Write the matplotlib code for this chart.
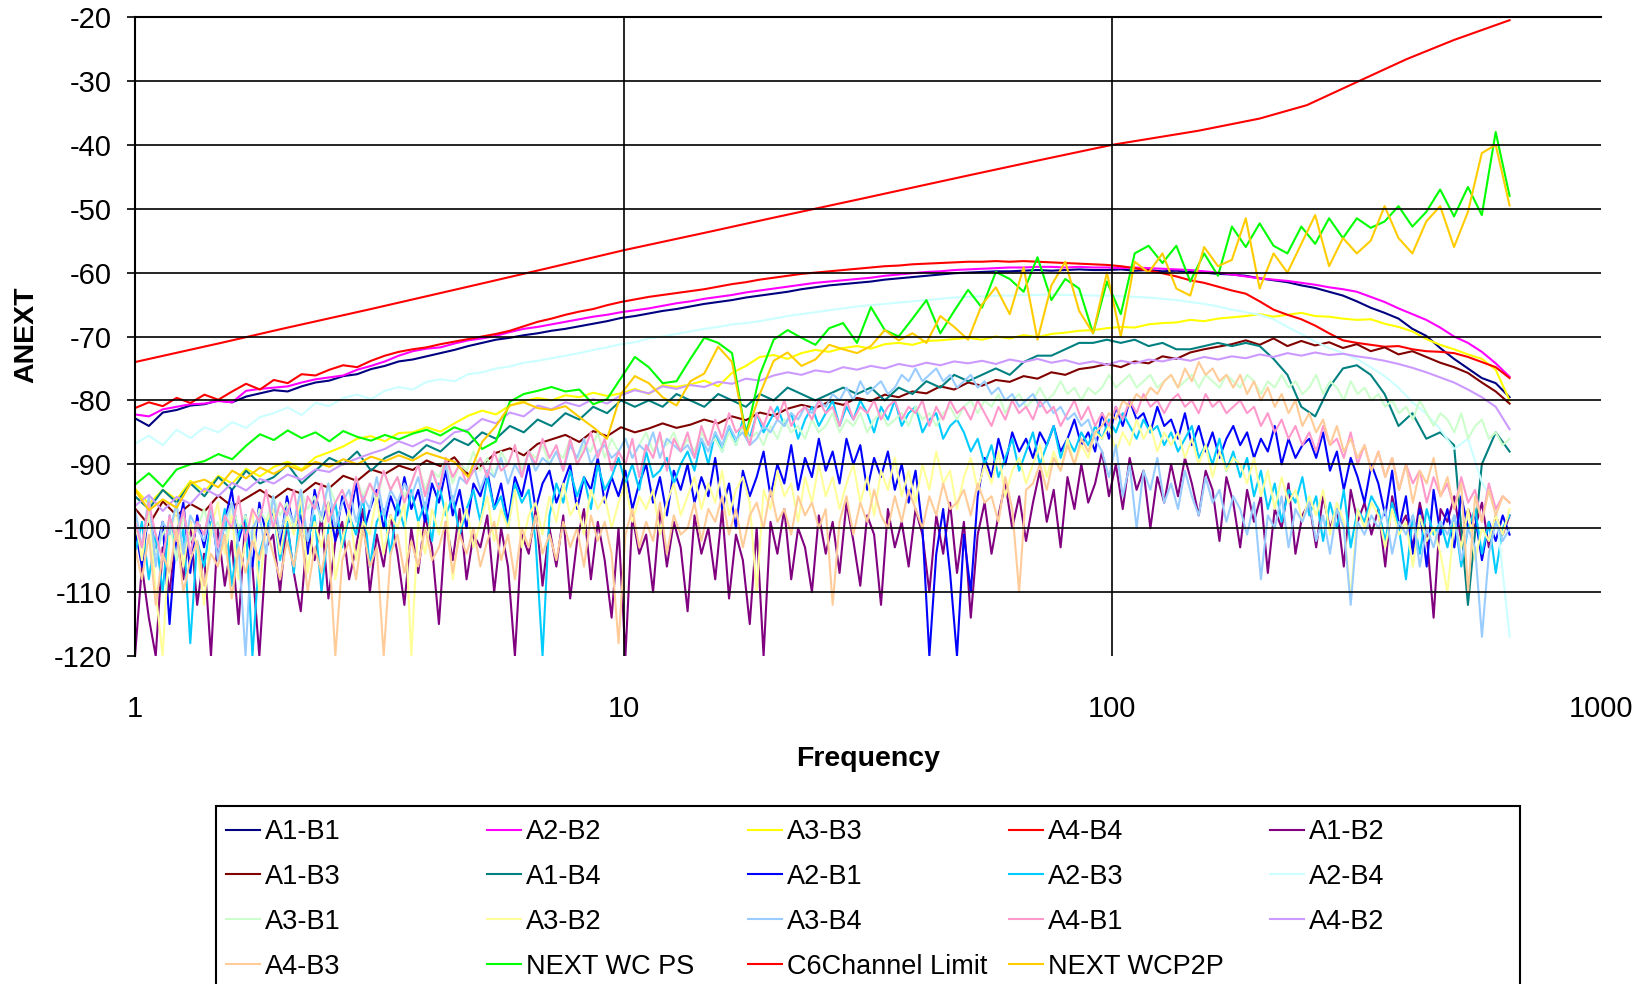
import numpy as np
import matplotlib.pyplot as plt
from matplotlib.patches import Rectangle

plt.rcParams['font.family'] = ['Liberation Sans', 'DejaVu Sans']
plt.rcParams['axes.unicode_minus'] = False

# sweep grids of the analyser, log spaced from 1 to 650 MHz
freq = np.geomspace(1, 650, 100)
freq_fine = np.geomspace(1, 650, 200)

a1_b1 = [-82.8, -84.0, -81.9, -81.5, -80.8, -80.6, -80.0, -80.3, -79.4, -78.9,
         -78.4, -78.6, -77.8, -77.2, -76.9, -76.2, -75.9, -75.1, -74.6, -73.9,
         -73.6, -73.1, -72.6, -72.1, -71.5, -71.0, -70.5, -70.2, -69.8, -69.5,
         -69.1, -68.8, -68.4, -68.0, -67.6, -67.1, -66.8, -66.4, -66.0, -65.7,
         -65.3, -64.9, -64.6, -64.3, -63.9, -63.6, -63.3, -63.0, -62.6, -62.3,
         -62.0, -61.8, -61.6, -61.4, -61.1, -60.9, -60.7, -60.5, -60.3, -60.1,
         -60.0, -59.9, -59.8, -59.8, -59.7, -59.6, -59.7, -59.6, -59.5, -59.6,
         -59.6, -59.5, -59.7, -59.6, -59.8, -59.7, -59.9, -60.0, -60.2, -60.3,
         -60.5, -60.9, -61.2, -61.5, -62.0, -62.4, -63.0, -63.6, -64.5, -65.5,
         -66.3, -67.2, -68.8, -69.9, -71.8, -73.5, -75.0, -76.5, -77.3, -79.5]

a2_b2 = [-82.2, -82.5, -81.4, -81.0, -80.6, -80.5, -80.1, -80.3, -78.5, -78.2,
         -78.0, -77.8, -77.2, -76.7, -76.4, -76.1, -75.2, -74.6, -73.9, -73.0,
         -72.3, -71.9, -71.7, -71.1, -70.6, -70.3, -69.9, -69.3, -68.8, -68.5,
         -68.1, -67.7, -67.3, -66.9, -66.6, -66.2, -65.9, -65.6, -65.2, -64.8,
         -64.5, -64.1, -63.8, -63.5, -63.1, -62.8, -62.5, -62.2, -61.9, -61.6,
         -61.4, -61.2, -61.0, -60.8, -60.5, -60.3, -60.1, -59.9, -59.8, -59.6,
         -59.5, -59.4, -59.3, -59.2, -59.2, -59.1, -59.1, -59.2, -59.1, -59.2,
         -59.2, -59.3, -59.2, -59.3, -59.4, -59.5, -59.6, -59.8, -60.0, -60.3,
         -60.6, -60.9, -61.1, -61.3, -61.6, -61.9, -62.3, -62.6, -63.0, -63.8,
         -64.6, -65.6, -66.5, -67.4, -68.6, -70.0, -71.0, -72.4, -74.2, -76.3]

a3_b3 = [-93.8, -96.2, -94.0, -95.5, -92.6, -94.3, -91.8, -93.0, -90.7, -91.9,
         -90.4, -89.6, -90.8, -88.9, -88.1, -87.2, -86.0, -85.6, -86.4, -85.1,
         -85.0, -84.2, -84.9, -83.6, -82.4, -81.6, -82.2, -80.8, -80.1, -79.6,
         -80.0, -79.2, -79.5, -78.8, -79.3, -78.9, -78.2, -79.0, -77.6, -77.9,
         -77.5, -76.9, -77.8, -75.7, -74.6, -73.2, -72.9, -73.5, -72.6, -72.1,
         -72.4, -71.8, -71.5, -71.9, -71.2, -71.0, -71.3, -70.7, -70.6, -70.4,
         -70.2, -70.5, -70.0, -70.3, -69.8, -70.1, -69.6, -69.4, -69.1, -69.0,
         -68.7, -68.5, -68.6, -68.1, -67.9, -67.8, -67.4, -67.6, -67.2, -67.0,
         -66.8, -66.5, -66.9, -66.6, -66.3, -66.8, -66.9, -67.2, -67.4, -67.3,
         -68.0, -68.5, -69.2, -70.4, -71.3, -72.0, -72.8, -73.5, -75.2, -80.0]

a4_b4 = [-81.2, -80.3, -80.9, -79.6, -80.4, -79.1, -79.9, -78.6, -77.4, -78.3,
         -76.8, -77.3, -75.9, -76.1, -75.2, -74.5, -74.8, -73.8, -73.0, -72.4,
         -72.0, -71.7, -71.2, -70.8, -70.4, -70.0, -69.6, -69.1, -68.4, -67.7,
         -67.2, -66.6, -66.1, -65.7, -65.1, -64.6, -64.2, -63.8, -63.5, -63.2,
         -62.9, -62.6, -62.2, -61.8, -61.5, -61.1, -60.8, -60.5, -60.2, -60.0,
         -59.8, -59.6, -59.4, -59.2, -59.0, -58.9, -58.7, -58.6, -58.5, -58.4,
         -58.3, -58.3, -58.2, -58.3, -58.2, -58.3, -58.4, -58.5, -58.6, -58.7,
         -58.8, -59.0, -59.3, -59.7, -60.1, -60.6, -61.2, -61.6, -62.2, -62.8,
         -63.3, -64.5, -65.8, -66.6, -67.3, -68.3, -69.5, -70.6, -71.0, -71.3,
         -71.6, -71.5, -72.0, -72.3, -72.4, -72.6, -73.2, -74.0, -74.8, -76.5]

a1_b2 = [-120, -106, -114, -120, -103, -110, -101, -108, -99, -112,
         -104, -120, -100, -109, -102, -115, -98, -106, -120, -103,
         -101, -110, -99, -107, -113, -100, -105, -98, -111, -102,
         -99, -108, -103, -97, -110, -101, -106, -98, -104, -112,
         -100, -107, -98, -103, -115, -99, -105, -97, -108, -101,
         -103, -98, -110, -100, -106, -120, -101, -104, -97, -109,
         -100, -106, -98, -111, -102, -97, -108, -99, -105, -114,
         -100, -120, -98, -104, -101, -110, -97, -106, -99, -103,
         -113, -98, -104, -100, -108, -97, -111, -101, -105, -115,
         -100, -120, -99, -104, -97, -108, -100, -103, -110, -98,
         -104, -99, -107, -96, -102, -109, -98, -101, -112, -97,
         -103, -99, -106, -97, -101, -110, -98, -104, -96, -107,
         -99, -114, -101, -96, -104, -98, -93, -100, -95, -102,
         -96, -91, -99, -94, -103, -92, -97, -90, -96, -93,
         -88, -95, -90, -97, -89, -94, -91, -100, -92, -96,
         -90, -95, -89, -93, -98, -91, -94, -102, -92, -96,
         -103, -94, -99, -95, -107, -97, -100, -93, -104, -98,
         -96, -103, -95, -100, -97, -106, -94, -99, -96, -101,
         -97, -106, -95, -100, -98, -103, -96, -101, -114, -97,
         -99, -95, -102, -97, -100, -96, -103, -98, -101, -98]

a1_b3 = [-96.9, -99.5, -95.8, -98.0, -96.2, -97.4, -94.9, -96.6, -95.3, -94.0,
         -95.4, -93.8, -94.6, -92.9, -93.7, -91.8, -92.6, -90.8, -91.5, -90.2,
         -90.9, -89.4, -90.3, -88.9, -91.6, -90.1, -88.2, -87.5, -88.6, -86.8,
         -86.1, -85.4, -86.5, -84.8, -85.6, -84.2, -85.0, -84.4, -83.6, -84.3,
         -83.8, -83.0, -83.6, -82.5, -83.1, -81.9, -82.4, -81.3, -80.7, -81.2,
         -80.2, -80.7, -79.6, -80.1, -79.1, -79.5, -78.6, -78.9, -77.8, -78.3,
         -77.2, -77.7, -76.8, -77.1, -76.2, -76.6, -75.6, -76.0, -75.1, -74.8,
         -74.3, -74.8, -73.9, -74.2, -73.1, -73.5, -72.5, -72.0, -71.6, -71.2,
         -70.6, -71.3, -70.3, -71.5, -70.7, -71.4, -70.9, -71.8, -71.2, -72.3,
         -71.7, -72.8, -72.3, -73.2, -74.1, -74.8, -75.7, -77.2, -78.6, -80.5]

a1_b4 = [-95, -97, -94, -96, -93, -95, -92, -94, -91, -93,
         -92, -90, -93, -91, -89, -90, -88, -91, -89, -88,
         -89, -87, -88, -86, -87, -85, -86, -84, -85, -83,
         -84, -82, -83, -81, -82, -80, -81, -80, -81, -79,
         -80, -81, -79, -80, -81, -79, -80, -78, -79, -80,
         -79, -78, -79, -78, -80, -78, -79, -77, -78, -76,
         -77, -76, -75, -76, -74, -73, -73, -72, -71, -71,
         -70.5, -71, -70.5, -71.5, -71, -72, -72, -71.5, -71, -71.5,
         -71, -71.5, -73.5, -76, -81, -82.5, -78, -75, -74.5, -76,
         -79, -84, -82, -86, -85, -87, -112, -90, -85, -88]

a2_b1 = [-100, -106, -97, -104, -99, -115, -101, -96, -107, -98,
         -103, -97, -105, -99, -94, -102, -98, -106, -96, -101,
         -97, -103, -95, -100, -98, -104, -94, -99, -96, -102,
         -95, -99, -93, -101, -97, -94, -100, -95, -98, -92,
         -97, -94, -99, -93, -96, -91, -98, -94, -100, -93,
         -95, -91, -97, -93, -99, -92, -95, -90, -97, -93,
         -91, -96, -93, -90, -97, -92, -94, -89, -96, -92,
         -95, -91, -97, -93, -90, -96, -92, -98, -91, -94,
         -90, -96, -92, -95, -89, -97, -93, -100, -91, -95,
         -92, -88, -95, -90, -93, -87, -94, -89, -92, -86,
         -91, -88, -93, -86, -90, -87, -94, -89, -92, -88,
         -94, -90, -96, -91, -100, -120, -104, -97, -107, -120,
         -101, -110, -95, -89, -92, -86, -90, -85, -88, -86,
         -89, -85, -87, -84, -88, -86, -83, -87, -85, -88,
         -82, -86, -81, -84, -80, -83, -82, -85, -81, -84,
         -83, -86, -82, -87, -84, -88, -85, -89, -86, -84,
         -87, -85, -89, -86, -88, -84, -90, -86, -89, -87,
         -86, -89, -85, -91, -88, -94, -89, -92, -96, -90,
         -93, -98, -91, -100, -95, -104, -97, -106, -94, -101,
         -97, -103, -95, -100, -98, -105, -99, -102, -98, -101]

a2_b3 = [-104, -99, -108, -101, -110, -98, -105, -100, -118, -102,
         -106, -99, -103, -97, -109, -101, -98, -120, -104, -100,
         -97, -105, -99, -107, -96, -102, -98, -110, -100, -96,
         -103, -98, -101, -95, -106, -99, -97, -104, -96, -100,
         -94, -99, -96, -102, -93, -98, -95, -101, -97, -94,
         -99, -92, -97, -95, -100, -93, -96, -94, -102, -120,
         -98, -93, -96, -91, -95, -92, -97, -90, -94, -92,
         -89, -93, -90, -94, -88, -92, -91, -89, -93, -90,
         -88, -91, -86, -90, -85, -88, -84, -87, -83, -86,
         -82, -85, -83, -81, -84, -82, -86, -83, -81, -84,
         -82, -80, -84, -81, -83, -80, -82, -85, -81, -83,
         -80, -84, -82, -81, -85, -83, -82, -86, -84, -83,
         -85, -88, -86, -90, -87, -92, -89, -86, -91, -88,
         -85, -90, -87, -84, -89, -86, -88, -85, -87, -84,
         -86, -83, -85, -82, -84, -86, -83, -85, -84, -87,
         -85, -88, -86, -84, -89, -87, -90, -86, -91, -88,
         -92, -89, -95, -91, -97, -93, -99, -94, -96, -92,
         -98, -95, -102, -96, -100, -94, -103, -97, -99, -95,
         -97, -102, -96, -100, -108, -98, -104, -97, -101, -99,
         -103, -98, -106, -100, -97, -104, -99, -107, -100, -98]

a2_b4 = [-86.8, -85.5, -87.0, -84.6, -85.9, -84.2, -85.0, -83.4, -84.3, -82.6,
         -82.0, -81.1, -82.3, -80.4, -80.9, -79.6, -79.1, -79.8, -78.5, -77.9,
         -78.3, -77.1, -76.7, -77.0, -75.9, -75.6, -75.0, -74.7, -74.1, -73.8,
         -73.4, -73.0, -72.6, -72.1, -71.7, -71.2, -70.9, -70.3, -70.0, -69.6,
         -69.2, -68.8, -68.5, -68.1, -67.9, -67.6, -67.2, -66.8, -66.5, -66.2,
         -65.9, -65.6, -65.3, -65.1, -64.9, -64.7, -64.5, -64.3, -64.1, -63.9,
         -63.8, -63.7, -63.6, -63.6, -63.5, -63.5, -63.4, -63.5, -63.5, -63.6,
         -63.6, -63.7, -63.8, -63.9, -64.1, -64.3, -64.6, -64.9, -65.3, -65.8,
         -66.2, -66.6, -67.3, -68.5, -69.6, -70.8, -71.8, -72.6, -73.5, -74.8,
         -76.2, -78.0, -80.3, -82.1, -84.5, -87.6, -86.0, -92.8, -96.5, -117.0]

a3_b1 = [-100, -103, -98, -104, -101, -99, -105, -98, -102, -100,
         -97, -101, -99, -103, -96, -100, -98, -102, -97, -99,
         -95, -98, -96, -100, -94, -97, -95, -99, -93, -96,
         -94, -97, -92, -95, -93, -96, -91, -94, -92, -95,
         -93, -90, -94, -91, -92, -89, -93, -90, -91, -88,
         -91, -89, -92, -88, -90, -87, -91, -88, -89, -87,
         -90, -88, -89, -86, -90, -87, -88, -85, -89, -86,
         -88, -86, -89, -87, -85, -88, -86, -87, -85, -88,
         -86, -88, -85, -87, -86, -88, -85, -87, -84, -86,
         -85, -87, -84, -86, -83, -85, -84, -86, -83, -85,
         -84, -82, -85, -83, -84, -82, -85, -83, -82, -84,
         -83, -82, -84, -81, -83, -82, -84, -82, -81, -83,
         -81, -80, -82, -80, -81, -79, -82, -80, -79, -81,
         -80, -78, -80, -79, -77, -79, -78, -80, -78, -79,
         -78, -76, -78, -77, -76, -78, -77, -76, -78, -77,
         -76, -78, -77, -76, -78, -76, -77, -78, -76, -77,
         -78, -76, -77, -79, -77, -78, -76, -78, -77, -79,
         -78, -76, -79, -77, -78, -80, -77, -79, -78, -80,
         -79, -81, -80, -82, -81, -83, -80, -82, -84, -82,
         -83, -85, -82, -86, -84, -83, -86, -85, -87, -86]

a3_b2 = [-98, -105, -96, -110, -120, -101, -97, -106, -99, -103,
         -112, -100, -96, -104, -98, -108, -102, -97, -110, -99,
         -97, -104, -98, -101, -95, -107, -99, -103, -96, -108,
         -102, -97, -105, -99, -101, -95, -104, -98, -100, -96,
         -120, -99, -104, -97, -101, -96, -108, -100, -97, -103,
         -99, -95, -102, -97, -100, -94, -103, -98, -96, -101,
         -95, -99, -93, -98, -96, -101, -94, -97, -95, -100,
         -96, -93, -99, -95, -97, -94, -101, -96, -93, -98,
         -95, -92, -97, -93, -96, -91, -98, -94, -92, -96,
         -110, -94, -97, -91, -95, -93, -99, -92, -96, -90,
         -95, -92, -97, -93, -90, -96, -92, -98, -91, -94,
         -89, -95, -91, -96, -90, -94, -88, -93, -91, -97,
         -92, -89, -94, -90, -93, -88, -95, -91, -89, -93,
         -90, -87, -92, -88, -91, -86, -90, -87, -89, -85,
         -86, -84, -88, -85, -87, -83, -86, -84, -88, -85,
         -87, -85, -89, -86, -90, -87, -92, -88, -91, -89,
         -90, -93, -89, -95, -91, -97, -92, -96, -94, -99,
         -95, -98, -94, -101, -96, -99, -111, -97, -100, -96,
         -98, -103, -97, -101, -99, -106, -98, -102, -100, -104,
         -110, -99, -103, -97, -105, -100, -102, -98, -101, -97]

a3_b4 = [-97, -103, -95, -106, -99, -101, -96, -104, -98, -100,
         -102, -97, -105, -99, -96, -103, -120, -100, -98, -104,
         -95, -101, -97, -99, -94, -102, -96, -98, -93, -100,
         -96, -94, -99, -95, -97, -92, -98, -94, -96, -93,
         -95, -92, -97, -91, -94, -90, -96, -92, -93, -90,
         -94, -91, -92, -89, -93, -90, -92, -88, -91, -89,
         -90, -88, -91, -87, -89, -86, -90, -88, -87, -89,
         -88, -86, -89, -87, -88, -85, -89, -86, -87, -88,
         -87, -89, -86, -88, -85, -87, -84, -86, -85, -87,
         -86, -84, -85, -83, -84, -82, -83, -81, -82, -80,
         -81, -79, -80, -78, -80, -77, -79, -78, -77, -79,
         -78, -76, -77, -75, -77, -76, -75, -77, -76, -78,
         -77, -76, -78, -77, -79, -78, -80, -79, -81, -80,
         -79, -81, -80, -82, -81, -83, -82, -84, -83, -86,
         -88, -92, -87, -95, -90, -100, -91, -94, -89, -96,
         -93, -97, -91, -95, -98, -92, -96, -94, -99, -95,
         -97, -101, -96, -108, -98, -100, -95, -103, -97, -99,
         -96, -102, -98, -104, -97, -100, -112, -99, -101, -98,
         -100, -97, -104, -99, -101, -98, -106, -100, -103, -99,
         -101, -98, -105, -100, -103, -117, -104, -99, -102, -100]

a4_b1 = [-99, -103, -96, -101, -105, -98, -102, -97, -104, -99,
         -101, -96, -103, -98, -100, -95, -102, -97, -99, -94,
         -100, -96, -98, -94, -101, -95, -97, -93, -99, -96,
         -94, -97, -92, -96, -93, -95, -91, -94, -92, -96,
         -93, -90, -95, -91, -94, -89, -92, -90, -93, -91,
         -89, -92, -88, -91, -90, -87, -92, -88, -90, -86,
         -89, -87, -91, -86, -90, -88, -85, -89, -86, -91,
         -88, -90, -86, -92, -87, -89, -85, -91, -86, -88,
         -85, -89, -84, -87, -83, -86, -82, -85, -84, -87,
         -82, -84, -81, -83, -80, -84, -82, -81, -83, -80,
         -82, -81, -84, -80, -83, -81, -82, -80, -83, -81,
         -80, -83, -81, -82, -80, -84, -81, -83, -80, -82,
         -81, -83, -80, -82, -84, -81, -83, -80, -82, -81,
         -83, -80, -82, -81, -84, -82, -80, -83, -81, -84,
         -82, -84, -81, -83, -80, -82, -79, -81, -80, -82,
         -80, -79, -81, -80, -82, -79, -81, -80, -82, -81,
         -80, -82, -81, -84, -82, -85, -83, -86, -84, -87,
         -85, -88, -84, -87, -86, -89, -85, -90, -87, -91,
         -88, -92, -89, -94, -90, -93, -91, -96, -92, -95,
         -93, -97, -92, -96, -94, -99, -93, -97, -95, -96]

a4_b2 = [-96.5, -94.8, -97.3, -95.1, -96.2, -93.8, -95.0, -92.9, -94.1, -92.3,
         -93.0, -91.6, -92.4, -90.8, -91.2, -89.9, -89.1, -88.3, -87.6, -86.4,
         -87.2, -86.1, -86.8, -85.0, -84.6, -82.9, -83.6, -81.9, -82.5, -80.8,
         -81.4, -80.3, -80.9, -79.8, -80.5, -79.2, -78.4, -78.9, -77.8, -78.2,
         -77.6, -77.9, -77.1, -77.4, -76.6, -76.9, -76.1, -75.6, -76.0, -75.3,
         -75.6, -74.8, -75.2, -74.6, -75.0, -74.3, -74.7, -74.1, -74.5, -73.9,
         -74.2, -73.8, -74.3, -73.6, -74.0, -73.5, -74.1, -73.7, -74.3, -73.9,
         -74.4, -73.8, -74.2, -73.6, -73.9, -73.4, -73.8, -73.2, -73.6, -73.1,
         -73.4, -72.8, -73.2, -72.6, -73.0, -72.5, -72.9, -72.7, -73.1, -73.4,
         -73.8, -74.3, -74.9, -75.6, -76.4, -77.2, -78.3, -79.5, -81.0, -84.5]

a4_b3 = [-103, -108, -101, -112, -104, -107, -100, -110, -105, -102,
         -109, -104, -106, -101, -111, -103, -107, -102, -105, -100,
         -104, -108, -102, -106, -100, -110, -103, -107, -101, -120,
         -105, -102, -108, -100, -106, -103, -120, -104, -101, -107,
         -102, -106, -100, -105, -103, -99, -107, -101, -104, -100,
         -106, -102, -99, -105, -101, -108, -100, -103, -98, -104,
         -101, -105, -99, -103, -100, -106, -98, -102, -99, -104,
         -118, -101, -97, -103, -99, -102, -96, -104, -98, -101,
         -100, -96, -102, -97, -99, -95, -101, -97, -103, -98,
         -96, -100, -94, -99, -97, -101, -95, -98, -96, -100,
         -97, -112, -99, -95, -101, -96, -99, -94, -98, -100,
         -95, -99, -94, -97, -100, -95, -98, -93, -97, -96,
         -94, -98, -93, -96, -95, -99, -92, -97, -110, -94,
         -93, -90, -94, -89, -91, -87, -90, -86, -88, -85,
         -84, -82, -83, -80, -81, -79, -80, -78, -79, -77,
         -76, -78, -75, -77, -74, -76, -75, -77, -76, -78,
         -76, -79, -77, -80, -78, -81, -79, -82, -80, -84,
         -82, -85, -83, -87, -84, -88, -86, -89, -87, -91,
         -88, -92, -89, -94, -90, -96, -91, -93, -89, -95,
         -92, -97, -93, -110, -95, -99, -94, -98, -95, -96]

next_wc_ps = [-93.2, -91.4, -93.5, -90.8, -90.0, -89.5, -88.4, -89.2, -87.1, -85.3,
              -86.2, -84.7, -85.9, -85.0, -86.4, -84.8, -85.7, -86.3, -85.4, -86.1,
              -85.2, -84.6, -85.5, -84.2, -85.0, -87.6, -86.4, -80.2, -79.0, -78.5,
              -77.9, -78.6, -78.3, -80.6, -79.8, -76.5, -73.2, -74.8, -77.3, -77.0,
              -73.5, -70.2, -71.0, -72.6, -85.5, -76.0, -70.5, -69.0, -70.2, -71.3,
              -68.7, -67.9, -71.0, -65.4, -69.0, -70.0, -67.2, -64.3, -69.5, -66.0,
              -62.7, -65.5, -59.9, -61.0, -63.0, -57.6, -64.3, -61.0, -62.5, -69.5,
              -61.4, -66.5, -57.0, -55.8, -58.5, -55.8, -61.4, -57.0, -60.5, -52.8,
              -56.0, -52.3, -55.8, -57.0, -52.8, -55.5, -51.5, -54.6, -51.5, -53.0,
              -52.0, -49.6, -52.8, -50.5, -47.0, -51.2, -46.6, -51.0, -38.0, -48.0]

next_wcp2p = [-94.0, -97.2, -95.5, -96.8, -93.0, -92.4, -93.6, -91.0, -92.2, -90.5,
              -91.5, -90.2, -91.0, -89.6, -90.4, -89.2, -90.0, -88.8, -89.5, -88.6,
              -89.4, -88.2, -88.9, -89.6, -92.0, -86.5, -84.0, -80.8, -80.3, -81.2,
              -81.5, -80.9, -82.6, -84.2, -86.0, -79.0, -76.2, -77.3, -79.5, -80.8,
              -77.0, -75.8, -71.6, -74.0, -85.5, -79.0, -73.8, -72.5, -74.6, -73.6,
              -71.3, -72.0, -72.6, -71.5, -69.0, -70.6, -69.5, -71.0, -66.8, -68.5,
              -70.5, -65.0, -62.3, -66.5, -59.2, -70.5, -62.0, -58.3, -66.0, -69.5,
              -60.0, -70.0, -58.3, -60.0, -57.0, -62.5, -63.6, -56.0, -59.0, -58.0,
              -51.5, -62.5, -57.0, -60.0, -55.5, -51.0, -59.0, -54.6, -57.0, -55.0,
              -49.6, -54.6, -57.0, -52.0, -49.6, -56.0, -50.5, -41.3, -40.0, -49.5]

# Category 6 channel limit line
limit_freq = [1, 1.5, 2, 3, 5, 7, 10, 15, 20, 30, 50, 70, 100, 150, 200, 250, 300, 400, 500, 650]
limit_db = [-74.0, -71.0, -68.8, -65.8, -61.9, -59.3, -56.5, -53.6, -51.5, -48.6,
            -44.9, -42.5, -40.0, -37.8, -35.9, -33.8, -31.0, -26.6, -23.6, -20.5]

labels = ["A1-B1", "A2-B2", "A3-B3", "A4-B4", "A1-B2",
          "A1-B3", "A1-B4", "A2-B1", "A2-B3", "A2-B4",
          "A3-B1", "A3-B2", "A3-B4", "A4-B1", "A4-B2",
          "A4-B3", "NEXT WC PS", "C6Channel Limit", "NEXT WCP2P"]
values = [a1_b1, a2_b2, a3_b3, a4_b4, a1_b2,
          a1_b3, a1_b4, a2_b1, a2_b3, a2_b4,
          a3_b1, a3_b2, a3_b4, a4_b1, a4_b2,
          a4_b3, next_wc_ps, limit_db, next_wcp2p]
colors = ["#000080", "#FF00FF", "#FFFF00", "#FF0000", "#800080",
          "#800000", "#008080", "#0000FF", "#00CCFF", "#CCFFFF",
          "#CCFFCC", "#FFFF99", "#99CCFF", "#FF99CC", "#CC99FF",
          "#FFCC99", "#00FF00", "#FF0000", "#FFCC00"]

W, H = 1652, 984
fig = plt.figure(figsize=(W / 100, H / 100), dpi=100)
ax = fig.add_axes([135 / W, 1 - 656 / H, (1601 - 135) / W, (656 - 17) / H])

lines = []
for name, y, c in zip(labels, values, colors):
    if name == "C6Channel Limit":
        x = limit_freq
    elif len(y) == len(freq_fine):
        x = freq_fine
    else:
        x = freq
    ln, = ax.plot(x, y, color=c, lw=1.5, label=name)
    lines.append(ln)

ax.set_xscale("log")
ax.set_xlim(1, 1000)
ax.set_ylim(-120, -20)
ax.set_xticks([1, 10, 100, 1000])
ax.set_xticklabels(["1", "10", "100", "1000"])
ax.minorticks_off()
ax.set_yticks(np.arange(-120, -19, 10))
ax.grid(True, color="black", lw=1.2)
ax.get_ygridlines()[0].set_visible(False)
ax.get_xgridlines()[0].set_visible(False)
ax.get_xgridlines()[-1].set_visible(False)
ax.set_axisbelow(False)
for gl in ax.get_xgridlines() + ax.get_ygridlines():
    gl.set_zorder(0.5)

ax.spines["right"].set_visible(False)
ax.spines["bottom"].set_visible(False)
ax.spines["top"].set_linewidth(1.5)
ax.spines["left"].set_linewidth(1.5)
ax.tick_params(axis="y", direction="out", length=6, width=1.2, labelsize=21, pad=11)
ax.tick_params(axis="x", length=0, labelsize=21, pad=28)

fig.text(868 / W, 1 - 759 / H, "Frequency", ha="center", va="center",
         fontsize=20.5, fontweight="bold")
fig.text(26 / W, 1 - 335 / H, "ANEXT", ha="center", va="center",
         fontsize=20.5, fontweight="bold", rotation=90)

# legend: 5 columns filled row by row, like the Excel chart
col_x = [226, 487, 748, 1009, 1270]
for c, x0 in enumerate(col_x):
    hs = lines[c::5]
    fig.legend(hs, [h.get_label() for h in hs], loc="upper left",
               bbox_to_anchor=(x0 / W, 1 - 819 / H), bbox_transform=fig.transFigure,
               frameon=False, fontsize=19.5, handlelength=1.25, handletextpad=0.2,
               labelspacing=0.7, borderpad=0, borderaxespad=0)
fig.add_artist(Rectangle((216 / W, -0.05), (1520 - 216) / W, 0.05 + 1 - 806 / H,
                         transform=fig.transFigure, fill=False, lw=1.5, ec="black"))

fig.savefig("out.png", dpi=100)
